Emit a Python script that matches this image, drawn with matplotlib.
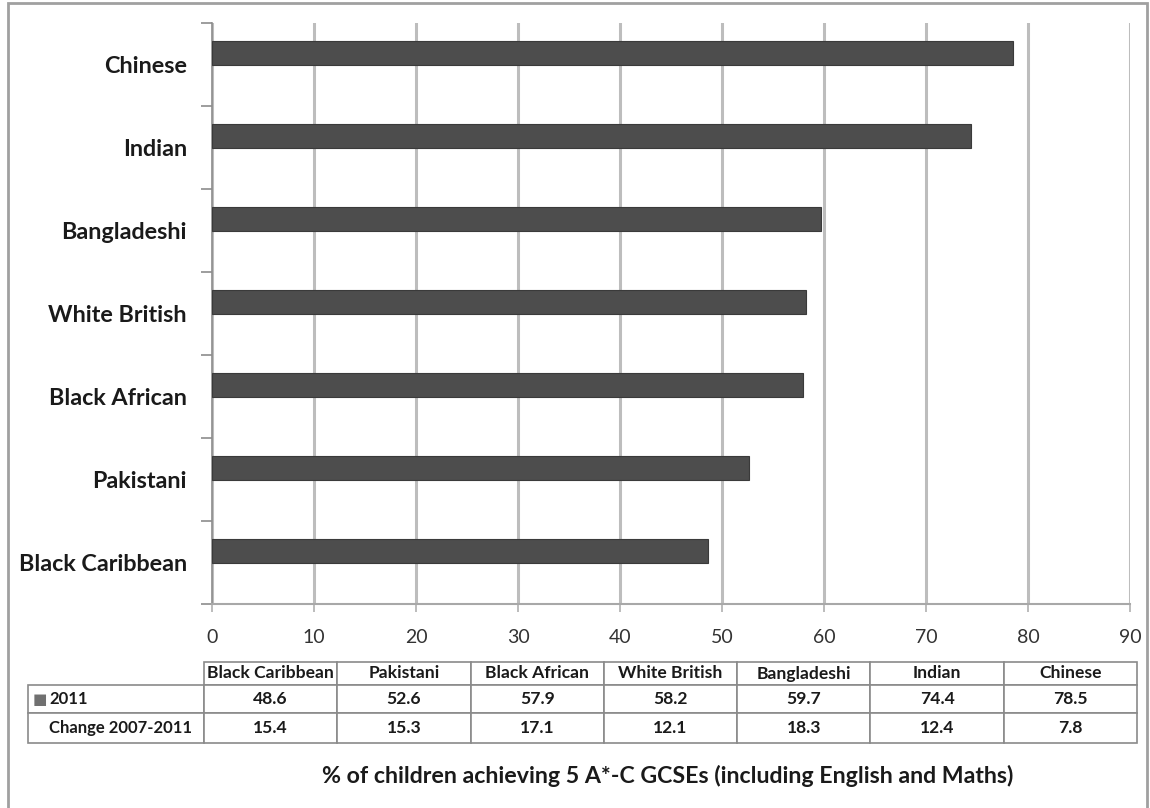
import matplotlib
matplotlib.use("Agg")
import matplotlib.pyplot as plt
from matplotlib.table import Table
from matplotlib.patches import Rectangle
import numpy as np

# data (bottom to top on the chart, same order as the table columns)
groups = ['Black Caribbean', 'Pakistani', 'Black African', 'White British',
          'Bangladeshi', 'Indian', 'Chinese']
pct_2011 = [48.6, 52.6, 57.9, 58.2, 59.7, 74.4, 78.5]
change_07_11 = [15.4, 15.3, 17.1, 12.1, 18.3, 12.4, 7.8]
row_labels = ['2011', 'Change 2007-2011']
caption = '% of children achieving 5 A*-C GCSEs (including English and Maths)'

plt.rcParams['font.family'] = ['Lato', 'DejaVu Sans']

W, H = 1150, 808
fig = plt.figure(figsize=(W / 100, H / 100), dpi=100)
fig.patch.set_facecolor('white')

# axes placed in pixel terms
ax_l, ax_r, ax_t, ax_b = 212, 1130, 23, 604
ax = fig.add_axes([ax_l / W, 1 - ax_b / H, (ax_r - ax_l) / W, (ax_b - ax_t) / H])

#--------------------------------
# bars (2011 series sits in the upper half of each slot)
#--------------------------------
y = np.arange(len(groups))
bar_h = 0.285
ax.barh(y + bar_h / 2, pct_2011, height=bar_h, color='#4d4d4d',
        edgecolor='#3a3a3a', linewidth=0.8, zorder=3)

ax.set_xlim(0, 90)
ax.set_ylim(-0.5, len(groups) - 0.5)
ax.set_xticks(np.arange(0, 91, 10))
ax.tick_params(axis='x', length=6, width=1.2, color='#b0b0b0', pad=12,
               labelsize=14, labelcolor='#333333')
ax.grid(axis='x', color='#bdbdbd', linewidth=2.2, zorder=0)

# category boundaries as ticks, names in between
ax.set_yticks(np.arange(-0.5, len(groups), 1.0))
ax.set_yticklabels([])
ax.set_yticks(y, minor=True)
ax.set_yticklabels(groups, minor=True, fontsize=16.8, fontweight='bold', color='#1a1a1a')
ax.tick_params(axis='y', which='major', length=8, width=1.2, color='#8c8c8c', direction='out')
ax.tick_params(axis='y', which='minor', length=0, pad=18)

for s in ['top', 'right']:
    ax.spines[s].set_visible(False)
ax.spines['left'].set_color('#8c8c8c')
ax.spines['bottom'].set_color('#a8a8a8')
ax.spines['left'].set_linewidth(1.2)
ax.spines['bottom'].set_linewidth(1.5)

#--------------------------------
# data table under the chart
#--------------------------------
tb_l, tb_r, tb_t, tb_b = 28, 1137, 662, 743
lab_w, col_w = 176, (tb_r - 204) / len(groups)
row_h = [23, 28, 30]
ax_w, ax_hh = ax_r - ax_l, ax_b - ax_t
bbox = [(tb_l - ax_l) / ax_w, (ax_b - tb_b) / ax_hh,
        (tb_r - tb_l) / ax_w, (tb_b - tb_t) / ax_hh]
tbl = Table(ax, bbox=bbox)
for j, g in enumerate(groups):
    tbl.add_cell(0, j + 1, width=col_w, height=row_h[0], text=g, loc='center')
rows = [pct_2011, change_07_11]
for i, vals in enumerate(rows):
    tbl.add_cell(i + 1, 0, width=lab_w, height=row_h[i + 1], text=row_labels[i], loc='left')
    for j, v in enumerate(vals):
        tbl.add_cell(i + 1, j + 1, width=col_w, height=row_h[i + 1], text=f'{v:.1f}', loc='center')
tbl.auto_set_font_size(False)
tbl.set_fontsize(12.6)
for (r, c), cell in tbl.get_celld().items():
    cell.set_edgecolor('#8a8a8a')
    cell.set_linewidth(1.2)
    cell.get_text().set_fontweight('bold')
    cell.get_text().set_color('#1a1a1a')
    if c == 0:
        cell.PAD = 0.12
        cell.get_text().set_fontsize(12)
ax.add_table(tbl)

# legend key square in front of "2011"
fig.text(40 / W, 1 - 699 / H, '\u25a0', color='#707070', fontsize=11,
         ha='center', va='center', family='DejaVu Sans')

# caption under the table
fig.text(668 / W, 1 - 776 / H, caption, ha='center', va='center',
         fontsize=16.7, fontweight='bold', color='#1a1a1a')

# outer frame of the chart area
fig.add_artist(Rectangle((8 / W, -0.05), (1147 - 8) / W, 1.05 - 3 / H,
                         transform=fig.transFigure, fill=False,
                         edgecolor='#a0a0a0', linewidth=2))

fig.savefig('out.png', dpi=100)
